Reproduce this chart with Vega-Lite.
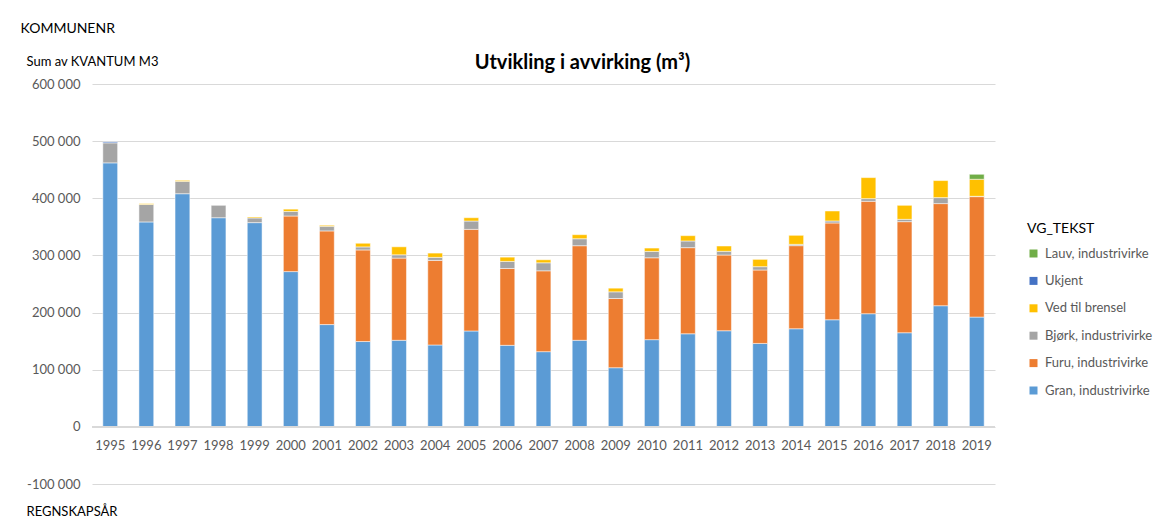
{
  "$schema": "https://vega.github.io/schema/vega-lite/v6.json",
  "width": 903,
  "height": 400,
  "autosize": {"type": "none"},
  "padding": {"left": 92, "top": 84, "right": 163, "bottom": 41},
  "background": "white",
  "config": {
    "font": "Lato",
    "locale": {"number": {"decimal": ",", "thousands": " ", "grouping": [3], "currency": ["", " kr"], "minus": "-"}},
    "view": {"stroke": null}
  },
  "title": {
    "text": "Utvikling i avvirking (m³)",
    "fontSize": 20,
    "fontWeight": "bold",
    "color": "#000000",
    "anchor": "middle",
    "frame": "group",
    "dx": 39,
    "dy": 56
  },
  "datasets": {
    "stackorder": [
      {"VG_TEKST": "Gran, industrivirke", "stack_rank": 1},
      {"VG_TEKST": "Furu, industrivirke", "stack_rank": 2},
      {"VG_TEKST": "Bjørk, industrivirke", "stack_rank": 3},
      {"VG_TEKST": "Ved til brensel", "stack_rank": 4},
      {"VG_TEKST": "Ukjent", "stack_rank": 5},
      {"VG_TEKST": "Lauv, industrivirke", "stack_rank": 6}
    ]
  },
  "data": {
    "values": [
      {"Year": "1995", "VG_TEKST": "Gran, industrivirke", "KVANTUM": 462000},
      {"Year": "1995", "VG_TEKST": "Bjørk, industrivirke", "KVANTUM": 35000},
      {"Year": "1995", "VG_TEKST": "Ukjent", "KVANTUM": 1700},
      {"Year": "1996", "VG_TEKST": "Gran, industrivirke", "KVANTUM": 358600},
      {"Year": "1996", "VG_TEKST": "Bjørk, industrivirke", "KVANTUM": 30500},
      {"Year": "1996", "VG_TEKST": "Ved til brensel", "KVANTUM": 1500},
      {"Year": "1997", "VG_TEKST": "Gran, industrivirke", "KVANTUM": 408000},
      {"Year": "1997", "VG_TEKST": "Bjørk, industrivirke", "KVANTUM": 21600},
      {"Year": "1997", "VG_TEKST": "Ved til brensel", "KVANTUM": 1800},
      {"Year": "1998", "VG_TEKST": "Gran, industrivirke", "KVANTUM": 366000},
      {"Year": "1998", "VG_TEKST": "Bjørk, industrivirke", "KVANTUM": 21700},
      {"Year": "1999", "VG_TEKST": "Gran, industrivirke", "KVANTUM": 357400},
      {"Year": "1999", "VG_TEKST": "Bjørk, industrivirke", "KVANTUM": 8200},
      {"Year": "1999", "VG_TEKST": "Ved til brensel", "KVANTUM": 1700},
      {"Year": "2000", "VG_TEKST": "Gran, industrivirke", "KVANTUM": 271700},
      {"Year": "2000", "VG_TEKST": "Furu, industrivirke", "KVANTUM": 97300},
      {"Year": "2000", "VG_TEKST": "Bjørk, industrivirke", "KVANTUM": 8000},
      {"Year": "2000", "VG_TEKST": "Ved til brensel", "KVANTUM": 4000},
      {"Year": "2001", "VG_TEKST": "Gran, industrivirke", "KVANTUM": 179000},
      {"Year": "2001", "VG_TEKST": "Furu, industrivirke", "KVANTUM": 163900},
      {"Year": "2001", "VG_TEKST": "Bjørk, industrivirke", "KVANTUM": 8100},
      {"Year": "2001", "VG_TEKST": "Ved til brensel", "KVANTUM": 1800},
      {"Year": "2002", "VG_TEKST": "Gran, industrivirke", "KVANTUM": 149300},
      {"Year": "2002", "VG_TEKST": "Furu, industrivirke", "KVANTUM": 160300},
      {"Year": "2002", "VG_TEKST": "Bjørk, industrivirke", "KVANTUM": 5300},
      {"Year": "2002", "VG_TEKST": "Ved til brensel", "KVANTUM": 6400},
      {"Year": "2003", "VG_TEKST": "Gran, industrivirke", "KVANTUM": 151500},
      {"Year": "2003", "VG_TEKST": "Furu, industrivirke", "KVANTUM": 143800},
      {"Year": "2003", "VG_TEKST": "Bjørk, industrivirke", "KVANTUM": 5800},
      {"Year": "2003", "VG_TEKST": "Ved til brensel", "KVANTUM": 14000},
      {"Year": "2004", "VG_TEKST": "Gran, industrivirke", "KVANTUM": 143300},
      {"Year": "2004", "VG_TEKST": "Furu, industrivirke", "KVANTUM": 148000},
      {"Year": "2004", "VG_TEKST": "Bjørk, industrivirke", "KVANTUM": 5300},
      {"Year": "2004", "VG_TEKST": "Ved til brensel", "KVANTUM": 7500},
      {"Year": "2005", "VG_TEKST": "Gran, industrivirke", "KVANTUM": 167800},
      {"Year": "2005", "VG_TEKST": "Furu, industrivirke", "KVANTUM": 177800},
      {"Year": "2005", "VG_TEKST": "Bjørk, industrivirke", "KVANTUM": 14600},
      {"Year": "2005", "VG_TEKST": "Ved til brensel", "KVANTUM": 5800},
      {"Year": "2006", "VG_TEKST": "Gran, industrivirke", "KVANTUM": 142700},
      {"Year": "2006", "VG_TEKST": "Furu, industrivirke", "KVANTUM": 134500},
      {"Year": "2006", "VG_TEKST": "Bjørk, industrivirke", "KVANTUM": 12300},
      {"Year": "2006", "VG_TEKST": "Ved til brensel", "KVANTUM": 7500},
      {"Year": "2007", "VG_TEKST": "Gran, industrivirke", "KVANTUM": 131600},
      {"Year": "2007", "VG_TEKST": "Furu, industrivirke", "KVANTUM": 141500},
      {"Year": "2007", "VG_TEKST": "Bjørk, industrivirke", "KVANTUM": 14000},
      {"Year": "2007", "VG_TEKST": "Ved til brensel", "KVANTUM": 5300},
      {"Year": "2008", "VG_TEKST": "Gran, industrivirke", "KVANTUM": 151500},
      {"Year": "2008", "VG_TEKST": "Furu, industrivirke", "KVANTUM": 165500},
      {"Year": "2008", "VG_TEKST": "Bjørk, industrivirke", "KVANTUM": 12200},
      {"Year": "2008", "VG_TEKST": "Ved til brensel", "KVANTUM": 7100},
      {"Year": "2009", "VG_TEKST": "Gran, industrivirke", "KVANTUM": 103500},
      {"Year": "2009", "VG_TEKST": "Furu, industrivirke", "KVANTUM": 121100},
      {"Year": "2009", "VG_TEKST": "Bjørk, industrivirke", "KVANTUM": 11700},
      {"Year": "2009", "VG_TEKST": "Ved til brensel", "KVANTUM": 6400},
      {"Year": "2010", "VG_TEKST": "Gran, industrivirke", "KVANTUM": 152600},
      {"Year": "2010", "VG_TEKST": "Furu, industrivirke", "KVANTUM": 143300},
      {"Year": "2010", "VG_TEKST": "Bjørk, industrivirke", "KVANTUM": 11100},
      {"Year": "2010", "VG_TEKST": "Ved til brensel", "KVANTUM": 5900},
      {"Year": "2011", "VG_TEKST": "Gran, industrivirke", "KVANTUM": 162900},
      {"Year": "2011", "VG_TEKST": "Furu, industrivirke", "KVANTUM": 150700},
      {"Year": "2011", "VG_TEKST": "Bjørk, industrivirke", "KVANTUM": 11700},
      {"Year": "2011", "VG_TEKST": "Ved til brensel", "KVANTUM": 9300},
      {"Year": "2012", "VG_TEKST": "Gran, industrivirke", "KVANTUM": 168200},
      {"Year": "2012", "VG_TEKST": "Furu, industrivirke", "KVANTUM": 132500},
      {"Year": "2012", "VG_TEKST": "Bjørk, industrivirke", "KVANTUM": 6500},
      {"Year": "2012", "VG_TEKST": "Ved til brensel", "KVANTUM": 9300},
      {"Year": "2013", "VG_TEKST": "Gran, industrivirke", "KVANTUM": 146000},
      {"Year": "2013", "VG_TEKST": "Furu, industrivirke", "KVANTUM": 128500},
      {"Year": "2013", "VG_TEKST": "Bjørk, industrivirke", "KVANTUM": 5800},
      {"Year": "2013", "VG_TEKST": "Ved til brensel", "KVANTUM": 12800},
      {"Year": "2014", "VG_TEKST": "Gran, industrivirke", "KVANTUM": 171700},
      {"Year": "2014", "VG_TEKST": "Furu, industrivirke", "KVANTUM": 145400},
      {"Year": "2014", "VG_TEKST": "Bjørk, industrivirke", "KVANTUM": 2300},
      {"Year": "2014", "VG_TEKST": "Ved til brensel", "KVANTUM": 15800},
      {"Year": "2015", "VG_TEKST": "Gran, industrivirke", "KVANTUM": 187400},
      {"Year": "2015", "VG_TEKST": "Furu, industrivirke", "KVANTUM": 169400},
      {"Year": "2015", "VG_TEKST": "Bjørk, industrivirke", "KVANTUM": 3500},
      {"Year": "2015", "VG_TEKST": "Ved til brensel", "KVANTUM": 17500},
      {"Year": "2016", "VG_TEKST": "Gran, industrivirke", "KVANTUM": 198000},
      {"Year": "2016", "VG_TEKST": "Furu, industrivirke", "KVANTUM": 196700},
      {"Year": "2016", "VG_TEKST": "Bjørk, industrivirke", "KVANTUM": 4700},
      {"Year": "2016", "VG_TEKST": "Ved til brensel", "KVANTUM": 36800},
      {"Year": "2017", "VG_TEKST": "Gran, industrivirke", "KVANTUM": 164700},
      {"Year": "2017", "VG_TEKST": "Furu, industrivirke", "KVANTUM": 194400},
      {"Year": "2017", "VG_TEKST": "Bjørk, industrivirke", "KVANTUM": 4100},
      {"Year": "2017", "VG_TEKST": "Ved til brensel", "KVANTUM": 24500},
      {"Year": "2018", "VG_TEKST": "Gran, industrivirke", "KVANTUM": 212000},
      {"Year": "2018", "VG_TEKST": "Furu, industrivirke", "KVANTUM": 178700},
      {"Year": "2018", "VG_TEKST": "Bjørk, industrivirke", "KVANTUM": 10500},
      {"Year": "2018", "VG_TEKST": "Ved til brensel", "KVANTUM": 29800},
      {"Year": "2019", "VG_TEKST": "Gran, industrivirke", "KVANTUM": 192100},
      {"Year": "2019", "VG_TEKST": "Furu, industrivirke", "KVANTUM": 210800},
      {"Year": "2019", "VG_TEKST": "Bjørk, industrivirke", "KVANTUM": 600},
      {"Year": "2019", "VG_TEKST": "Ved til brensel", "KVANTUM": 29800},
      {"Year": "2019", "VG_TEKST": "Lauv, industrivirke", "KVANTUM": 8700}
    ]
  },
  "resolve": {"axis": {"y": "independent"}},
  "layer": [
    {
      "transform": [
        {"lookup": "VG_TEKST", "from": {"data": {"name": "stackorder"}, "key": "VG_TEKST", "fields": ["stack_rank"]}}
      ],
      "mark": {"type": "bar", "stroke": "white", "strokeWidth": 0.5},
      "encoding": {
        "x": {
          "field": "Year",
          "type": "ordinal",
          "scale": {"paddingInner": 0.59, "paddingOuter": 0.3},
          "axis": {
            "title": "REGNSKAPSÅR",
            "titleFontSize": 13,
            "titleFontWeight": "normal",
            "titleColor": "#000000",
            "titleAnchor": "start",
            "titleAlign": "left",
            "titleBaseline": "middle",
            "titleX": -66,
            "titleY": 84,
            "offset": -57,
            "domain": false,
            "ticks": false,
            "labelAngle": 0,
            "labelPadding": 12,
            "labelFontSize": 13,
            "labelColor": "#595959"
          }
        },
        "y": {
          "field": "KVANTUM",
          "type": "quantitative",
          "stack": "zero",
          "scale": {"domain": [-100000, 600000], "nice": false, "zero": false},
          "axis": {
            "values": [-100000, 0, 100000, 200000, 300000, 400000, 500000, 600000],
            "format": ",d",
            "grid": true,
            "gridColor": "#d9d9d9",
            "gridWidth": 1,
            "domain": false,
            "ticks": false,
            "labelPadding": 12,
            "labelFontSize": 13,
            "labelColor": "#595959",
            "title": "Sum av KVANTUM M3",
            "titleFontSize": 13,
            "titleFontWeight": "normal",
            "titleColor": "#000000",
            "titleAngle": 0,
            "titleAlign": "left",
            "titleBaseline": "middle",
            "titleX": -66,
            "titleY": -23
          }
        },
        "order": {"field": "stack_rank", "type": "quantitative", "sort": "ascending"},
        "color": {
          "field": "VG_TEKST",
          "type": "nominal",
          "scale": {
            "domain": ["Lauv, industrivirke", "Ukjent", "Ved til brensel", "Bjørk, industrivirke", "Furu, industrivirke", "Gran, industrivirke"],
            "range": ["#70AD47", "#4472C4", "#FFC000", "#A5A5A5", "#ED7D31", "#5B9BD5"]
          },
          "legend": {
            "orient": "none",
            "legendX": 935,
            "legendY": 138,
            "title": "VG_TEKST",
            "titleFontSize": 14,
            "titleFontWeight": "normal",
            "titleColor": "#000000",
            "titlePadding": 11,
            "symbolType": "square",
            "symbolSize": 64,
            "symbolStrokeWidth": 0,
            "labelFontSize": 13,
            "labelColor": "#595959",
            "rowPadding": 13.4,
            "labelOffset": 5
          }
        }
      }
    },
    {
      "mark": {"type": "rule", "color": "#d9d9d9", "strokeWidth": 1.5},
      "encoding": {
        "y": {
          "datum": 0,
          "type": "quantitative",
          "axis": {
            "orient": "right",
            "title": "KOMMUNENR",
            "labels": false,
            "ticks": false,
            "domain": false,
            "grid": false,
            "titleFontSize": 14,
            "titleFontWeight": "normal",
            "titleColor": "#000000",
            "titleAngle": 0,
            "titleAlign": "left",
            "titleBaseline": "middle",
            "titleX": -975,
            "titleY": -56
          }
        }
      }
    }
  ]
}
